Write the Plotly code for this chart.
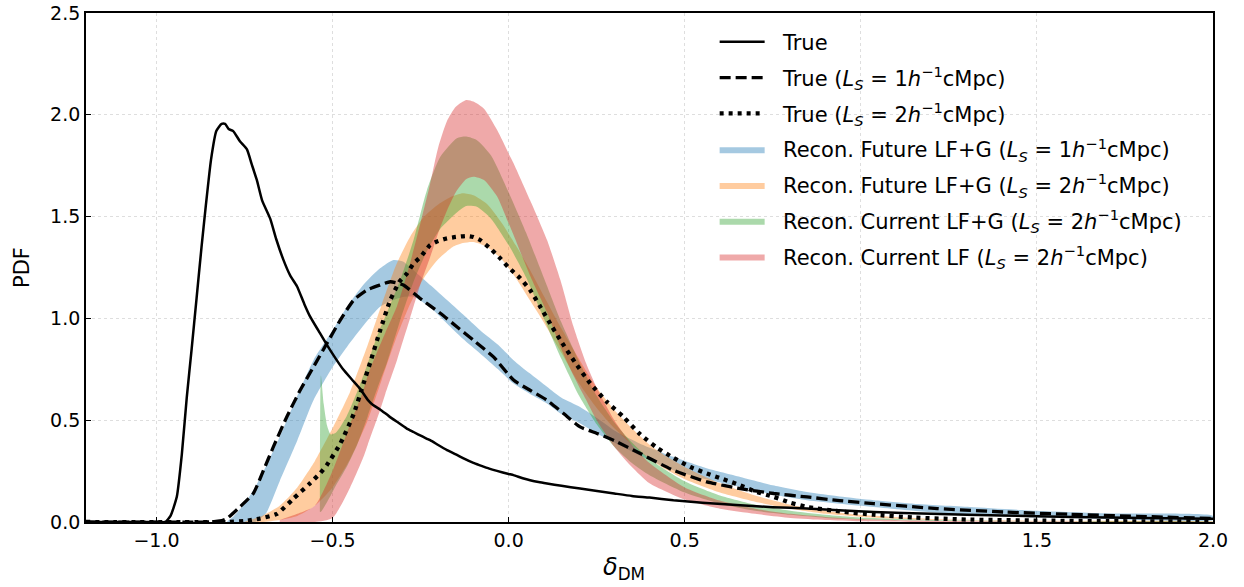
import plotly.graph_objects as go

# ---------------- data ----------------
true_x = [-1.2, -1.0, -0.975, -0.96, -0.942, -0.928, -0.914, -0.9, -0.886, -0.872, -0.86, -0.845,
          -0.83, -0.815, -0.805, -0.795, -0.782, -0.763, -0.743, -0.73, -0.715, -0.70, -0.677, -0.66,
          -0.64, -0.62, -0.601, -0.58, -0.564, -0.54, -0.516, -0.49, -0.47, -0.445, -0.422, -0.40,
          -0.385, -0.365, -0.34, -0.317, -0.29, -0.27, -0.245, -0.223, -0.2, -0.175, -0.15, -0.128,
          -0.1, -0.081, -0.055, -0.033, 0.0, 0.014, 0.04, 0.061, 0.085, 0.109, 0.15, 0.203, 0.251,
          0.3, 0.35, 0.4, 0.468, 0.55, 0.658, 0.75, 0.847, 0.95, 1.037, 1.2, 1.4, 1.6, 1.8, 2.0]
true_y = [0.0, 0.0, 0.0, 0.03, 0.125, 0.33, 0.61, 0.85, 1.10, 1.35, 1.55, 1.78,
          1.92, 1.955, 1.955, 1.93, 1.92, 1.87, 1.83, 1.76, 1.68, 1.58, 1.49, 1.39,
          1.29, 1.21, 1.158, 1.07, 1.01, 0.94, 0.87, 0.80, 0.75, 0.70, 0.655, 0.60,
          0.575, 0.553, 0.52, 0.492, 0.46, 0.442, 0.42, 0.402, 0.378, 0.353, 0.332, 0.312,
          0.29, 0.278, 0.262, 0.251, 0.236, 0.23, 0.215, 0.205, 0.196, 0.189, 0.178, 0.164, 0.152,
          0.14, 0.128, 0.12, 0.107, 0.095, 0.082, 0.073, 0.066, 0.056, 0.049, 0.04, 0.032, 0.025, 0.02, 0.016]

true1_x = [-1.2, -0.85, -0.82, -0.80, -0.763, -0.725, -0.696, -0.668, -0.63, -0.592, -0.554, -0.516,
           -0.478, -0.44, -0.403, -0.365, -0.336, -0.299, -0.251, -0.194, -0.147, -0.10, -0.043,
           0.014, 0.061, 0.109, 0.156, 0.203, 0.251, 0.30, 0.374, 0.468, 0.563, 0.658, 0.753, 0.847,
           0.94, 1.037, 1.217, 1.406, 1.595, 1.785, 2.0]
true1_y = [0.0, 0.0, 0.005, 0.017, 0.074, 0.14, 0.254, 0.369, 0.516, 0.647, 0.762, 0.877,
           0.992, 1.09, 1.139, 1.164, 1.18, 1.164, 1.098, 1.025, 0.959, 0.893, 0.811,
           0.697, 0.647, 0.598, 0.533, 0.467, 0.435, 0.40, 0.336, 0.254, 0.197, 0.164, 0.14, 0.123,
           0.105, 0.09, 0.066, 0.049, 0.038, 0.028, 0.017]

true2_x = [-1.2, -0.8, -0.75, -0.706, -0.658, -0.611, -0.564, -0.535, -0.516, -0.478, -0.44, -0.412,
           -0.39, -0.365, -0.336, -0.31, -0.289, -0.27, -0.251, -0.223, -0.2, -0.175, -0.15, -0.118,
           -0.1, -0.081, -0.05, -0.024, 0.0, 0.033, 0.061, 0.09, 0.123, 0.147, 0.19, 0.232, 0.279,
           0.326, 0.374, 0.421, 0.468, 0.516, 0.563, 0.61, 0.658, 0.70, 0.753, 0.80, 0.847, 0.95,
           1.037, 1.15, 1.3, 1.5, 1.7, 2.0]
true2_y = [0.0, 0.0, 0.005, 0.017, 0.04, 0.115, 0.19, 0.24, 0.28, 0.385, 0.53, 0.68,
           0.80, 0.94, 1.09, 1.18, 1.22, 1.27, 1.30, 1.36, 1.38, 1.393, 1.40, 1.405,
           1.40, 1.385, 1.34, 1.295, 1.25, 1.197, 1.139, 1.057, 0.96, 0.893, 0.78, 0.68, 0.59,
           0.516, 0.43, 0.365, 0.315, 0.27, 0.238, 0.21, 0.18, 0.15, 0.123, 0.095, 0.074, 0.05,
           0.036, 0.022, 0.012, 0.007, 0.004, 0.002]

blue_x = [-0.80, -0.78, -0.75, -0.72, -0.69, -0.65, -0.60, -0.554, -0.50, -0.459, -0.41, -0.365,
          -0.327, -0.30, -0.27, -0.22, -0.175, -0.13, -0.081, -0.03, 0.014, 0.06, 0.109, 0.15,
          0.203, 0.26, 0.30, 0.38, 0.468, 0.56, 0.658, 0.75, 0.847, 0.94, 1.037, 1.15, 1.31, 1.50,
          1.70, 2.00]
blue_hi = [0.0, 0.03, 0.09, 0.17, 0.27, 0.418, 0.62, 0.795, 0.94, 1.057, 1.17, 1.246,
           1.287, 1.28, 1.237, 1.16, 1.09, 1.02, 0.942, 0.87, 0.795, 0.73, 0.664, 0.61,
           0.565, 0.5, 0.45, 0.38, 0.32, 0.265, 0.221, 0.18, 0.147, 0.125, 0.107, 0.09, 0.074, 0.055,
           0.042, 0.03]
blue_lo = [0.0, 0.0, 0.0, 0.0, 0.04, 0.2, 0.4, 0.598, 0.76, 0.86, 0.97, 1.057,
           1.09, 1.105, 1.106, 1.05, 0.975, 0.9, 0.828, 0.75, 0.68, 0.63, 0.582, 0.53,
           0.484, 0.426, 0.39, 0.32, 0.254, 0.21, 0.172, 0.135, 0.107, 0.09, 0.074, 0.055, 0.033, 0.022,
           0.015, 0.01]

orange_x = [-0.75, -0.70, -0.65, -0.60, -0.55, -0.50, -0.45, -0.40, -0.36, -0.32, -0.28, -0.24,
            -0.20, -0.16, -0.13, -0.10, -0.06, -0.02, 0.02, 0.06, 0.10, 0.15, 0.20, 0.25, 0.30,
            0.35, 0.40, 0.45, 0.50, 0.60, 0.70, 0.80, 0.90, 1.00, 1.20, 1.50, 2.00]
orange_hi = [0.0, 0.03, 0.08, 0.17, 0.30, 0.46, 0.64, 0.87, 1.07, 1.26, 1.40, 1.50,
             1.56, 1.60, 1.615, 1.605, 1.56, 1.47, 1.36, 1.24, 1.11, 0.95, 0.80, 0.66, 0.55,
             0.46, 0.38, 0.32, 0.27, 0.19, 0.13, 0.085, 0.055, 0.035, 0.015, 0.006, 0.002]
orange_lo = [0.0, 0.0, 0.01, 0.03, 0.08, 0.17, 0.31, 0.50, 0.70, 0.90, 1.07, 1.20,
             1.29, 1.35, 1.37, 1.375, 1.35, 1.29, 1.20, 1.09, 0.98, 0.83, 0.68, 0.56, 0.46,
             0.38, 0.31, 0.255, 0.21, 0.145, 0.10, 0.065, 0.04, 0.025, 0.01, 0.004, 0.001]

green_x = [-0.536, -0.533, -0.525, -0.515, -0.505, -0.49, -0.46, -0.43, -0.40, -0.37, -0.346,
           -0.308, -0.27, -0.232, -0.194, -0.147, -0.12, -0.09, -0.05, 0.0, 0.05, 0.10, 0.15,
           0.20, 0.25, 0.30, 0.35, 0.40, 0.50, 0.60, 0.70, 0.80, 0.90, 1.00, 1.20, 1.50, 2.00]
green_hi = [0.12, 0.72, 0.58, 0.47, 0.43, 0.44, 0.52, 0.64, 0.78, 0.93, 1.025,
            1.188, 1.385, 1.63, 1.794, 1.885, 1.893, 1.875, 1.80, 1.62, 1.42, 1.20, 0.98,
            0.79, 0.62, 0.49, 0.39, 0.31, 0.20, 0.13, 0.085, 0.055, 0.035, 0.022, 0.01, 0.004, 0.001]
green_lo = [0.05, 0.05, 0.07, 0.10, 0.13, 0.18, 0.27, 0.38, 0.52, 0.67, 0.78,
            0.99, 1.18, 1.33, 1.44, 1.52, 1.552, 1.548, 1.49, 1.36, 1.20, 1.00, 0.80,
            0.62, 0.48, 0.37, 0.29, 0.23, 0.145, 0.09, 0.055, 0.035, 0.02, 0.012, 0.005, 0.002, 0.0]

red_x = [-0.65, -0.60, -0.55, -0.50, -0.45, -0.412, -0.40, -0.365, -0.35, -0.317, -0.30, -0.28,
         -0.25, -0.223, -0.20, -0.175, -0.15, -0.12, -0.10, -0.07, -0.033, 0.0, 0.014, 0.061,
         0.109, 0.147, 0.184, 0.22, 0.25, 0.30, 0.35, 0.40, 0.50, 0.60, 0.70, 0.80, 0.90, 1.00,
         1.20, 1.50, 2.00]
red_hi = [0.01, 0.04, 0.08, 0.25, 0.48, 0.65, 0.72, 0.87, 0.93, 1.06, 1.15, 1.27,
          1.47, 1.66, 1.84, 1.97, 2.04, 2.073, 2.065, 2.03, 1.926, 1.81, 1.762, 1.58,
          1.385, 1.188, 0.96, 0.78, 0.66, 0.50, 0.38, 0.29, 0.17, 0.105, 0.065, 0.04, 0.025, 0.015,
          0.006, 0.002, 0.0]
red_lo = [0.0, 0.0, 0.0, 0.02, 0.17, 0.32, 0.38, 0.549, 0.63, 0.795, 0.89, 1.0,
          1.17, 1.30, 1.42, 1.53, 1.62, 1.685, 1.696, 1.68, 1.60, 1.467, 1.41, 1.21,
          1.03, 0.86, 0.72, 0.60, 0.50, 0.37, 0.27, 0.19, 0.11, 0.065, 0.04, 0.02, 0.01, 0.004,
          0.0, 0.0, 0.0]

x_ticks = [-1.0, -0.5, 0.0, 0.5, 1.0, 1.5, 2.0]
x_ticktext = ["\u22121.0", "\u22120.5", "0.0", "0.5", "1.0", "1.5", "2.0"]
y_ticks = [0.0, 0.5, 1.0, 1.5, 2.0, 2.5]
y_ticktext = ["0.0", "0.5", "1.0", "1.5", "2.0", "2.5"]

LS1 = "(<i>L</i><sub><i>S</i></sub> = 1<i>h</i><sup>\u22121</sup>cMpc)"
LS2 = "(<i>L</i><sub><i>S</i></sub> = 2<i>h</i><sup>\u22121</sup>cMpc)"
PAD = "\u00a0\u00a0"

bands = [
    ("Recon. Future LF+G " + LS1, blue_x, blue_lo, blue_hi, "rgba(31,119,180,0.4)", 4),
    ("Recon. Future LF+G " + LS2, orange_x, orange_lo, orange_hi, "rgba(255,127,14,0.4)", 5),
    ("Recon. Current LF+G " + LS2, green_x, green_lo, green_hi, "rgba(44,160,44,0.4)", 6),
    ("Recon. Current LF " + LS2, red_x, red_lo, red_hi, "rgba(214,39,40,0.4)", 7),
]
lines = [
    ("True", true_x, true_y, "solid", 2.5, 1),
    ("True " + LS1, true1_x, true1_y, "11px,5px", 3.3, 2),
    ("True " + LS2, true2_x, true2_y, "4px,5px", 4.3, 3),
]

fig = go.Figure()
for name, xs, lo, hi, col, rank in bands:
    fig.add_trace(go.Scatter(
        x=list(xs) + list(xs)[::-1], y=list(hi) + list(lo)[::-1],
        fill="toself", fillcolor=col, mode="lines",
        line=dict(width=0, color=col, shape="spline", smoothing=0.6),
        name=PAD + name, legendrank=rank, legendgroup=name, hoverinfo="skip"))
for name, xs, ys, dash, w, rank in lines:
    fig.add_trace(go.Scatter(
        x=xs, y=ys, mode="lines", name=PAD + name, legendrank=rank, legendgroup=name,
        line=dict(color="black", width=w, dash=dash, shape="spline", smoothing=0.5)))

axis_common = dict(
    showline=True, linecolor="black", linewidth=1.8, mirror=True,
    ticks="inside", ticklen=5, tickwidth=1.4, tickcolor="black",
    showgrid=True, gridcolor="#dedede", gridwidth=1, griddash="3px,3px",
    zeroline=False, automargin=False,
    tickfont=dict(family="DejaVu Sans", size=19, color="black"),
)
fig.update_xaxes(range=[-1.2, 2.0], tickvals=x_ticks, ticktext=x_ticktext, **axis_common)
fig.update_yaxes(range=[0, 2.5], tickvals=y_ticks, ticktext=y_ticktext, **axis_common)

fig.add_annotation(text="<i>\u03b4</i><sub>DM</sub>", xref="paper", yref="paper",
                   x=0.477, y=-0.092, xanchor="center", yanchor="middle", showarrow=False,
                   font=dict(family="DejaVu Sans", size=24, color="black"))
fig.add_annotation(text="PDF", xref="paper", yref="paper", textangle=-90,
                   x=-0.0568, y=0.501, xanchor="center", yanchor="middle", showarrow=False,
                   font=dict(family="DejaVu Sans", size=21, color="black"))

fig.update_layout(
    width=1244, height=587,
    margin=dict(l=86, r=31, t=13, b=65, pad=0),
    paper_bgcolor="white", plot_bgcolor="white",
    font=dict(family="DejaVu Sans", size=21, color="black"),
    legend=dict(x=0.5578, y=0.983, xanchor="left", yanchor="top",
                bgcolor="rgba(0,0,0,0)", borderwidth=0, itemwidth=45,
                tracegroupgap=5.5, font=dict(family="DejaVu Sans", size=21, color="black")),
    showlegend=True,
)

fig.write_html("out.html")
